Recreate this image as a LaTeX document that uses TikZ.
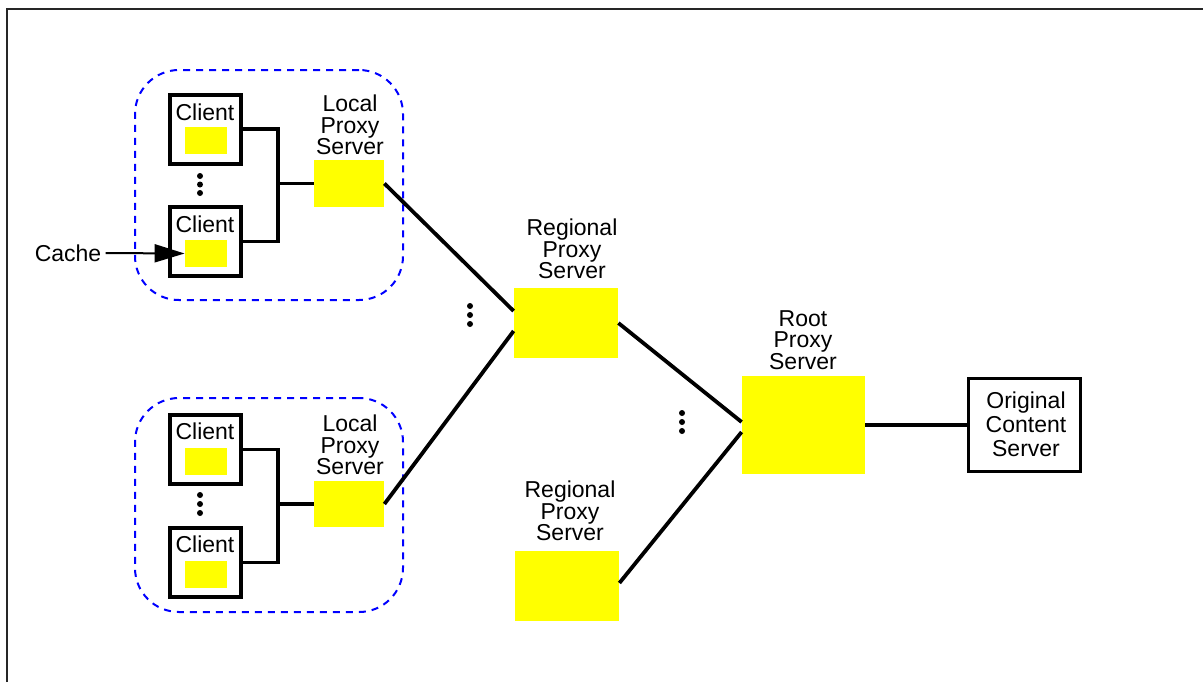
\documentclass[tikz,border=0pt]{standalone}
\usepackage{fontspec}
\setmainfont{Liberation Sans}
\usetikzlibrary{arrows.meta}
\begin{document}
\begin{tikzpicture}[x=0.5pt,y=-0.5pt,
 lbl/.style={align=center, font=\fontsize{11.5}{10.8}\selectfont, inner sep=0},
 ybox/.style={fill={rgb,1:red,1;green,1;blue,0}, inner sep=0, draw=none},
 client/.style={draw, line width=2pt, inner sep=0, minimum width=35.5pt, minimum height=34.5pt},
 cy/.style={ybox, minimum width=21pt, minimum height=13.5pt},
 conn/.style={line width=1.9pt},
 grp/.style={draw=blue, dash pattern=on 3.5pt off 3pt, line width=1pt, rounded corners=22pt, inner sep=0},
 dotn/.style={circle, fill, inner sep=0, minimum size=3pt}]
\useasboundingbox (0,0) rectangle (1203,682);
% frame
\draw[line width=1pt, black!85] (7,682) -- (7,8.5) -- (1203,8.5);
% groups
\node[grp, minimum width=134pt, minimum height=115pt] (g1) at (269,185) {};
\node[grp, minimum width=134pt, minimum height=107pt] (g2) at (269,505) {};
% clients top
\node[client] (c1) at (205.5,129) {};
\node[cy] (c1y) at (206,140.5) {};
\node[lbl] (c1t) at (205,112) {Client};
\node[client] (c2) at (205.5,241.5) {};
\node[cy] (c2y) at (206,253.5) {};
\node[lbl] (c2t) at (205,224) {Client};
\node[dotn] (d1a) at (200,176) {};
\node[dotn] (d1b) at (200,184.5) {};
\node[dotn] (d1c) at (200,193) {};
% clients bottom
\node[client] (c3) at (205.5,449.5) {};
\node[cy] (c3y) at (206,461.5) {};
\node[lbl] (c3t) at (205,431) {Client};
\node[client] (c4) at (205.5,562.5) {};
\node[cy] (c4y) at (206,574) {};
\node[lbl] (c4t) at (205,544) {Client};
\node[dotn] (d2a) at (200,495) {};
\node[dotn] (d2b) at (200,504) {};
\node[dotn] (d2c) at (200,513) {};
% local proxies
\node[ybox, minimum width=35pt, minimum height=23.5pt] (lp1) at (349,183.5) {};
\node[lbl] (lp1t) at (350,125) {Local\\Proxy\\Server};
\node[ybox, minimum width=35pt, minimum height=23pt] (lp2) at (349,504) {};
\node[lbl] (lp2t) at (350,445) {Local\\Proxy\\Server};
% regional proxies
\node[ybox, minimum width=52pt, minimum height=35pt] (rp1) at (566,323) {};
\node[lbl] (rp1t) at (572,249) {Regional\\Proxy\\Server};
\node[ybox, minimum width=52pt, minimum height=35pt] (rp2) at (567,586) {};
\node[lbl] (rp2t) at (570,511) {Regional\\Proxy\\Server};
\node[dotn] (d3a) at (470,306) {};
\node[dotn] (d3b) at (470,315) {};
\node[dotn] (d3c) at (470,324) {};
% root proxy
\node[ybox, minimum width=61.5pt, minimum height=49pt] (root) at (803.5,425) {};
\node[lbl] (roott) at (803,340) {Root\\Proxy\\Server};
\node[dotn] (d4a) at (682,413) {};
\node[dotn] (d4b) at (682,422) {};
\node[dotn] (d4c) at (682,431) {};
% original content server
\node[draw, line width=1.75pt, inner sep=0, minimum width=56pt, minimum height=46.5pt] (ocs) at (1024.5,425) {};
\node[lbl, font=\fontsize{11.5}{12}\selectfont] (ocst) at (1026,424) {Original\\Content\\Server};
% connectors inside groups
\draw[conn] (c1.east) -- ++(35,0) coordinate (j1) |- (c2.east);
\draw[conn] (j1 |- lp1.west) -- (lp1.west);
\draw[conn] (c3.east) -- ++(35,0) coordinate (j2) |- (c4.east);
\draw[conn] (j2 |- lp2.west) -- (lp2.west);
% hierarchy connectors
\draw[conn] (lp1.east) -- ([yshift=6pt]rp1.west);
\draw[conn] (lp2.east) -- ([yshift=-4pt]rp1.west);
\draw[conn] (rp1.east) -- ([yshift=1.5pt]root.west);
\draw[conn] ([yshift=1.5pt]rp2.east) -- ([yshift=-3.5pt]root.west);
\draw[conn] (root.east) -- (ocs.west);
% cache
\node[lbl] (cache) at (68,253) {Cache};
\draw[line width=1pt, -{Triangle[length=15pt,width=9pt]}] (cache.east) ++(4,0) -- (c2y.west);
\end{tikzpicture}
\end{document}
